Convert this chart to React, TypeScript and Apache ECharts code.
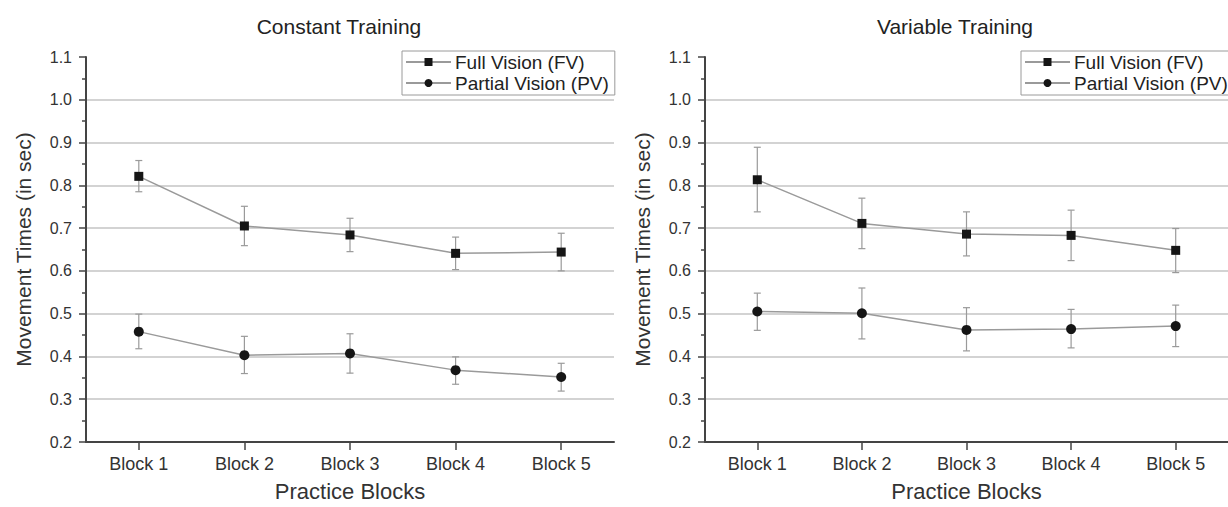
import React, { useEffect, useRef } from "react";
import * as echarts from "echarts";

const blocks = ["Block 1", "Block 2", "Block 3", "Block 4", "Block 5"];
const seriesNames = ["Full Vision (FV)", "Partial Vision (PV)"];
const panelTitles = ["Constant Training", "Variable Training"];

// Constant training
const constFV = [0.821, 0.705, 0.684, 0.641, 0.644];
const constFVLow = [0.785, 0.659, 0.645, 0.603, 0.6];
const constFVHigh = [0.858, 0.751, 0.723, 0.679, 0.688];
const constPV = [0.458, 0.403, 0.407, 0.368, 0.352];
const constPVLow = [0.418, 0.36, 0.361, 0.335, 0.319];
const constPVHigh = [0.499, 0.447, 0.453, 0.399, 0.384];

// Variable training
const varFV = [0.813, 0.711, 0.686, 0.683, 0.648];
const varFVLow = [0.738, 0.652, 0.635, 0.624, 0.596];
const varFVHigh = [0.889, 0.77, 0.738, 0.742, 0.699];
const varPV = [0.505, 0.501, 0.462, 0.464, 0.471];
const varPVLow = [0.461, 0.441, 0.413, 0.42, 0.423];
const varPVHigh = [0.548, 0.56, 0.514, 0.51, 0.52];

const FONT = "'Liberation Sans', Arial, Helvetica, sans-serif";
const tickPositions = blocks.map((_, i) => i + 1);

const renderErr = (params: any, api: any) => {
  const x = api.value(0);
  const lo = api.value(1);
  const hi = api.value(2);
  const pLo = api.coord([x, lo]);
  const pHi = api.coord([x, hi]);
  const cw = 3.5;
  const style = { stroke: "#9a9a9a", lineWidth: 1.2 };
  return {
    type: "group",
    children: [
      { type: "line", shape: { x1: pLo[0], y1: pLo[1], x2: pHi[0], y2: pHi[1] }, style },
      { type: "line", shape: { x1: pHi[0] - cw, y1: pHi[1], x2: pHi[0] + cw, y2: pHi[1] }, style },
      { type: "line", shape: { x1: pLo[0] - cw, y1: pLo[1], x2: pLo[0] + cw, y2: pLo[1] }, style },
    ],
  };
};

function makeXAxis(gridIndex: number) {
  return {
    type: "value",
    gridIndex,
    min: 0.5,
    max: 5.5,
    name: "Practice Blocks",
    nameLocation: "middle",
    nameGap: 38,
    nameTextStyle: { fontSize: 22, color: "#333", fontFamily: FONT },
    axisLine: { show: true, lineStyle: { color: "#444", width: 2 } },
    axisTick: { show: true, customValues: tickPositions, length: 8, lineStyle: { color: "#444", width: 1.5 } },
    axisLabel: {
      customValues: tickPositions,
      formatter: (v: number) => blocks[Math.round(v) - 1] ?? "",
      fontSize: 18,
      color: "#333",
      fontFamily: FONT,
      margin: 13,
    },
    splitLine: { show: false },
  };
}

function makeYAxis(gridIndex: number) {
  return {
    type: "value",
    gridIndex,
    min: 0.2,
    max: 1.1,
    interval: 0.1,
    name: "Movement Times (in sec)",
    nameLocation: "middle",
    nameRotate: 90,
    nameGap: 52,
    nameTextStyle: { fontSize: 21, color: "#333", fontFamily: FONT },
    axisLine: { show: true, lineStyle: { color: "#444", width: 2 } },
    axisTick: { show: true, length: 7, lineStyle: { color: "#444", width: 1.5 } },
    minorTick: { show: true, splitNumber: 2, length: 4, lineStyle: { color: "#444", width: 1.5 } },
    axisLabel: {
      formatter: (v: number) => v.toFixed(1),
      fontSize: 16,
      color: "#333",
      fontFamily: FONT,
      margin: 14,
    },
    splitLine: { show: true, showMinLine: false, showMaxLine: false, lineStyle: { color: "#c4c4c4", width: 1.6 } },
  };
}

function lineSeries(name: string, values: number[], idx: number, symbol: string, size: number) {
  return {
    type: "line",
    name,
    xAxisIndex: idx,
    yAxisIndex: idx,
    data: values.map((v, i) => [i + 1, v]),
    symbol,
    symbolSize: size,
    showAllSymbol: true,
    itemStyle: { color: "#151515" },
    lineStyle: { color: "#9a9a9a", width: 1.5 },
    z: 5,
  };
}

function errSeries(low: number[], high: number[], idx: number) {
  return {
    type: "custom",
    xAxisIndex: idx,
    yAxisIndex: idx,
    renderItem: renderErr,
    encode: { x: 0, y: [1, 2] },
    data: low.map((l, i) => [i + 1, l, high[i]]),
    z: 3,
    silent: true,
  };
}

function makeLegend(left: number) {
  return {
    left,
    top: 51,
    orient: "vertical",
    itemGap: 1,
    itemWidth: 45,
    itemHeight: 10,
    padding: [1, 6, 2, 3],
    borderColor: "#9a9a9a",
    borderWidth: 1,
    backgroundColor: "#fff",
    textStyle: { fontSize: 19, color: "#222", fontFamily: FONT, lineHeight: 20, padding: [0, 0, 0, -1] },
    data: seriesNames,
  };
}

export default function App() {
  const ref = useRef<HTMLDivElement>(null);
  useEffect(() => {
    if (!ref.current) return;
    const chart = echarts.init(ref.current, undefined, { renderer: "svg" });
    chart.setOption({
      animation: false,
      backgroundColor: "#fff",
      textStyle: { fontFamily: FONT },
      grid: [
        { left: 86, top: 57, width: 528, height: 387 },
        { left: 705, top: 57, width: 525, height: 387 },
      ],
      xAxis: [makeXAxis(0), makeXAxis(1)],
      yAxis: [makeYAxis(0), makeYAxis(1)],
      legend: [makeLegend(402), makeLegend(1021)],
      graphic: [
        {
          type: "text",
          x: 339,
          y: 26,
          style: { text: panelTitles[0], fontSize: 21, fill: "#222", fontFamily: FONT, textAlign: "center", textVerticalAlign: "middle" },
        },
        {
          type: "text",
          x: 955,
          y: 26,
          style: { text: panelTitles[1], fontSize: 21, fill: "#222", fontFamily: FONT, textAlign: "center", textVerticalAlign: "middle" },
        },
      ],
      series: [
        errSeries(constFVLow, constFVHigh, 0),
        errSeries(constPVLow, constPVHigh, 0),
        lineSeries(seriesNames[0], constFV, 0, "rect", 9),
        lineSeries(seriesNames[1], constPV, 0, "circle", 10),
        errSeries(varFVLow, varFVHigh, 1),
        errSeries(varPVLow, varPVHigh, 1),
        lineSeries(seriesNames[0], varFV, 1, "rect", 9),
        lineSeries(seriesNames[1], varPV, 1, "circle", 10),
      ],
    });
    return () => chart.dispose();
  }, []);
  return (
    <div
      ref={ref}
      style={{ position: "absolute", left: 0, top: 0, width: 1228, height: 507, background: "#fff" }}
    />
  );
}
